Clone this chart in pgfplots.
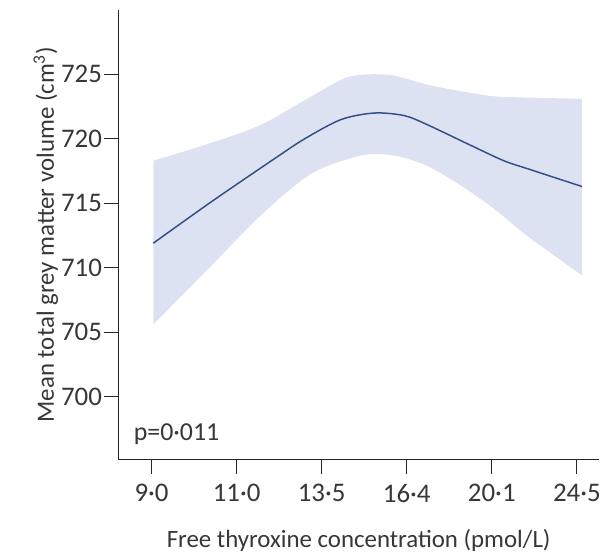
\documentclass[border=0pt]{standalone}
\usepackage{fontspec}
\setmainfont{Carlito}
\usepackage{pgfplots}
\pgfplotsset{compat=1.18}
\usepgfplotslibrary{fillbetween}
\definecolor{bandc}{RGB}{221,226,242}
\definecolor{linec}{RGB}{52,80,135}
\definecolor{txt}{RGB}{55,55,55}
\begin{document}
\begin{tikzpicture}
\begin{axis}[
  scale only axis, width=483pt, height=452pt,
  xmin=-0.39, xmax=5.26, ymin=695.1, ymax=730,
  axis x line=bottom, axis y line=left,
  axis line style={-, line width=1.2pt, black!85},
  xtick={0,1,2,3,4,5},
  xticklabels={9·0,11·0,13·5,16·4,20·1,24·5},
  ytick={700,705,710,715,720,725},
  tick align=outside, major tick length=14pt,
  tick style={line width=1.2pt, black!85},
  font=\fontsize{25}{30}\selectfont,
  ticklabel style={font=\fontsize{27}{32}\selectfont, text=txt},
  xticklabel style={yshift=-7pt},
  yticklabel style={xshift=1pt},
  /pgf/number format/assume math mode=true,
  xlabel={Free thyroxine concentration (pmol/L)},
  ylabel={Mean total grey matter volume (cm\textsuperscript{3})},
  xlabel style={yshift=-20pt},
  ylabel style={yshift=-4pt},
  label style={text=txt},
  clip=false,
]
\coordinate (O) at (rel axis cs:0,0);
\addplot[name path=up, draw=none, smooth] coordinates {
(0.02,718.3) (0.71,719.7) (1.29,721.1) (1.88,723.3) (2.27,724.7) (2.54,725.0)
(2.85,724.9) (3.24,724.2) (3.63,723.7) (4.02,723.3) (4.41,723.2) (5.06,723.1)};
\addplot[name path=lo, draw=none, smooth] coordinates {
(0.02,705.6) (0.71,710.2) (1.29,714.1) (1.88,717.3) (2.46,718.7) (2.85,718.7)
(3.24,717.9) (3.63,716.4) (4.02,714.6) (4.41,712.5) (5.06,709.4)};
\addplot[bandc, draw=none] fill between[of=up and lo];
\addplot[linec, line width=1.5pt, smooth] coordinates {
(0.02,711.9) (0.7,715.1) (1.41,718.3) (1.80,720.0) (2.23,721.5) (2.62,722.0)
(2.97,721.8) (3.24,721.1) (3.75,719.5) (4.14,718.3) (4.41,717.7) (5.06,716.3)};
\node[anchor=west, text=txt, font=\fontsize{26}{31}\selectfont] at (axis cs:-0.25,697.1) {p=0·011};
\end{axis}
\path (O) ++(-119pt,-93pt) rectangle ++(604pt,555pt);
\end{tikzpicture}
\end{document}
